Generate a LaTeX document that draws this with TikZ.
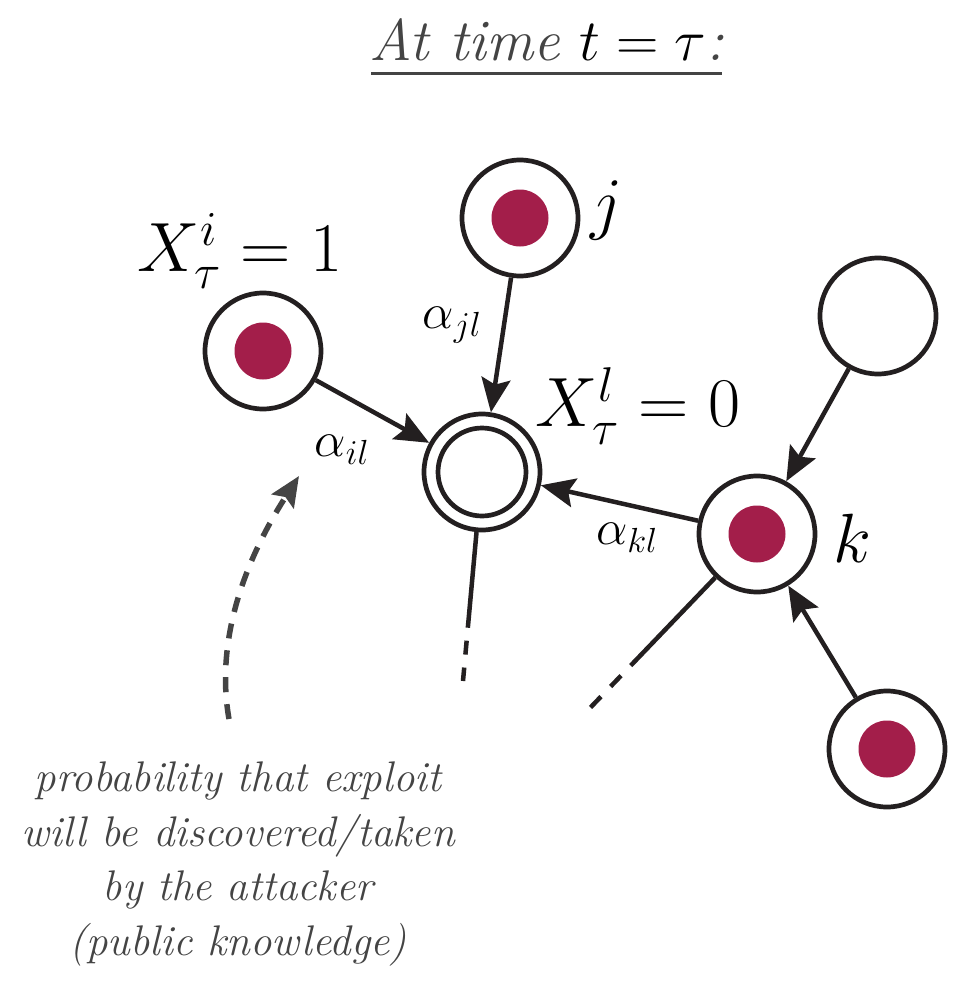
\RequirePackage{fix-cm}
\documentclass[tikz,border=0pt]{standalone}
\usetikzlibrary{arrows.meta}
\definecolor{dotred}{HTML}{A31E4A}
\definecolor{textgray}{HTML}{444444}
\definecolor{linecol}{HTML}{231F20}
\begin{document}
\begin{tikzpicture}[x=1bp,y=-1bp,
  nodecirc/.style={circle, draw=linecol, line width=4.7bp, minimum size=116bp, inner sep=0pt, fill=white},
  reddot/.style={circle, fill=dotred, minimum size=57bp, inner sep=0pt},
  plainline/.style={line width=4.5bp, draw=linecol},
  edgearrow/.style={plainline, -{Stealth[length=34bp,width=29bp,inset=6bp]}},
  biglab/.style={font=\fontsize{70}{70}\selectfont, inner sep=0pt},
  alab/.style={font=\fontsize{50}{50}\selectfont, inner sep=0pt},
  note/.style={font=\fontsize{43}{55}\selectfont\itshape, text=textgray, align=center, inner sep=0pt}
]
\useasboundingbox (0,0) rectangle (956,984);

% title
\node[font=\fontsize{59}{59}\selectfont, inner sep=0pt] (title) at (547,40)
  {\textcolor{textgray}{\itshape At time}\,\,$t=\tau$\textcolor{textgray}{\itshape :}};
\draw[line width=3bp, textgray] (371,73) -- (722,73);

% nodes
\node[nodecirc] (i) at (263,351) {};
\node[reddot] at (i) {};
\node[nodecirc] (j) at (520,218) {};
\node[reddot] at (j) {};
\node[nodecirc] (l) at (482,472) {};
\node[circle, draw=linecol, line width=4.7bp, minimum size=88bp, inner sep=0pt] (linner) at (l) {};
\node[nodecirc] (tr) at (878,316) {};
\node[nodecirc] (k) at (757,534) {};
\node[reddot] at (k) {};
\node[nodecirc] (br) at (887,749) {};
\node[reddot] at (br) {};

% labels
\node[biglab] (li) at (240,251) {$X^i_\tau=1$};
\node[biglab] (lj) at (607,210) {$j$};
\node[biglab] (ll) at (638,406) {$X^l_\tau=0$};
\node[biglab] (lk) at (852,538) {$k$};
\node[alab] (aj) at (452,325) {$\alpha_{jl}$};
\node[alab] (ai) at (342,450) {$\alpha_{il}$};
\node[alab] (ak) at (627,538) {$\alpha_{kl}$};

% edges
\draw[edgearrow] (i) -- (l);
\draw[edgearrow] (j) -- (l);
\draw[edgearrow] (k) -- (l);
\draw[edgearrow] (tr) -- (k);
\draw[edgearrow] (br) -- (k);

% dangling edges
\coordinate (lend) at (463,681);
\coordinate (kend) at (590,708);
\draw[plainline, dash pattern=on 96bp off 13bp on 14bp off 13bp on 14bp] (l) -- (lend);
\draw[plainline, dash pattern=on 122bp off 14bp on 15bp off 14bp on 15bp] (k) -- (kend);

% dashed curved arrow
\coordinate (cstart) at (229,719);
\coordinate (cend) at (299,476);
\draw[line width=5.5bp, textgray, dash pattern=on 15bp off 12bp,
      -{Stealth[length=30bp,width=26bp,inset=5bp]}]
  (cstart) .. controls (215,640) and (245,560) .. (cend);

% note text
\node[note] (txt) at (238,864) {probability that exploit\\will be discovered/taken\\by the attacker\\(public knowledge)};
\end{tikzpicture}
\end{document}
